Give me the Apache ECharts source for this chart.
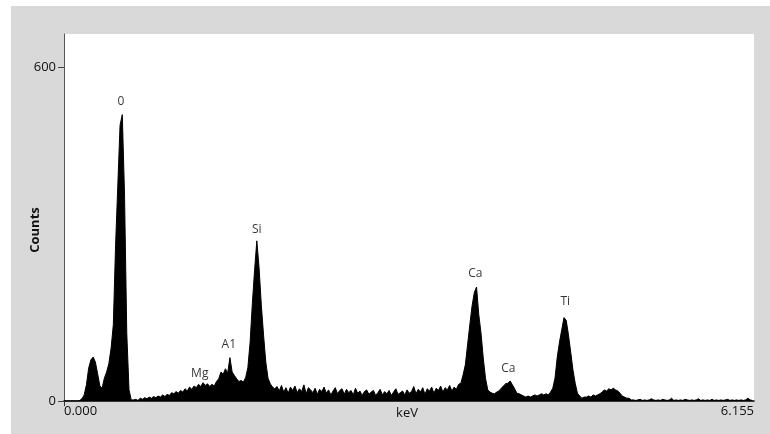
<!DOCTYPE html>
<html><head><meta charset="utf-8">
<script src="https://cdn.jsdelivr.net/npm/echarts@6/dist/echarts.min.js"></script>
<style>html,body{margin:0;padding:0;background:#fff}#c{width:770px;height:434px}</style>
</head><body><div id="c"></div>
<script>
// EDS spectrum, channel width in keV
const channelWidth = 0.02;
const axisMaxKeV = 6.155;
const counts = [
  0,0,0,0,0,0,0,1,
  4,11,29,59,74,79,70,49,27,23,41,52,67,95,137,280,388,496,515,370,122,20,2,
  2,3,1,5,3,6,4,7,5,8,6,9,7,11,8,12,10,15,13,17,14,19,16,22,18,25,21,27,24,30,
  26,33,28,31,26,30,27,35,40,52,48,58,50,78,52,46,40,35,37,34,42,60,105,175,235,288,
  240,173,119,70,41,31,25,22,
  26,18,28,16,24,14,25,19,27,15,22,17,29,13,24,20,15,23,12,21,17,25,14,20,11,18,24,13,19,22,
  12,21,15,19,11,23,14,18,10,17,20,12,16,19,10,15,21,11,17,13,19,10,16,22,12,15,18,11,20,14,
  17,26,13,21,16,24,12,22,18,25,14,23,19,27,16,24,20,28,18,25,21,30,
  32,47,65,101,137,171,195,205,155,122,77,41,20,16,14,13,16,18,23,27,31,32,36,29,
  22,14,13,11,9,7,9,7,9,11,9,11,13,11,13,11,16,23,41,79,106,128,150,145,119,88,56,
  32,14,9,5,7,7,9,7,11,9,11,13,16,20,18,22,20,23,20,18,14,9,7,5,5,2,
  2,1,2,3,1,2,1,2,4,2,1,2,1,3,2,1,2,5,1,2,1,2,1,3,2,1,2,1,2,4,
  1,2,1,2,1,3,1,2,1,2,1,2,3,1,2,1,2,1,2,1,2,5,2,1
];
const yTickValues = [0, 600];
const xTickLabelValues = [0, 6.155];
const peakNames = ['0', 'Si', 'Mg', 'A1', 'Ca', 'Ca', 'Ti'];
const peakLabelKeV = [0.508, 1.719, 1.211, 1.470, 3.670, 3.964, 4.471];
const peakLabelCounts = [539, 309, 50, 101, 230, 58, 178];

const spectrum = counts.map((c, i) => [i * channelWidth, c]);
const labels = peakNames.map((n, i) => ({ name: n, value: [peakLabelKeV[i], peakLabelCounts[i]] }));

const FONT = 'Open Sans';
const chart = echarts.init(document.getElementById('c'), null, { renderer: 'canvas' });
chart.setOption({
  animation: false,
  backgroundColor: '#d9d9d9',
  textStyle: { fontFamily: FONT },
  graphic: [
    { type: 'rect', shape: { x: 0, y: 0, width: 11, height: 434 }, style: { fill: '#fff' }, silent: true },
    { type: 'rect', shape: { x: 0, y: 0, width: 770, height: 6 }, style: { fill: '#fff' }, silent: true },
    { type: 'text', x: 35, y: 230, rotation: Math.PI / 2,
      style: { text: 'Counts', fontFamily: FONT, fontSize: 13, fontWeight: 'bold', fill: '#111',
               align: 'center', verticalAlign: 'middle' } }
  ],
  grid: { left: 64, right: 16, top: 34, bottom: 33, show: true, backgroundColor: '#ffffff', borderWidth: 0,
          containLabel: false, outerBoundsMode: 'none' },
  xAxis: {
    type: 'value', min: 0, max: axisMaxKeV,
    name: 'keV', nameLocation: 'middle', nameGap: 6, nameMoveOverlap: false,
    nameTextStyle: { fontFamily: FONT, fontSize: 13, color: '#111', padding: [0, 4, 0, 0],
                     verticalAlign: 'top' },
    axisLine: { onZero: false, lineStyle: { color: '#000', width: 1.5 } },
    axisTick: { show: true, customValues: [0], length: 5, lineStyle: { color: '#333' } },
    axisLabel: { customValues: xTickLabelValues, formatter: v => v.toFixed(3), margin: 4,
                 fontFamily: FONT, fontSize: 13, color: '#111',
                 alignMinLabel: 'left', alignMaxLabel: 'right' },
    splitLine: { show: false }
  },
  yAxis: {
    type: 'value', min: 0, max: 660,
    axisLine: { show: true, lineStyle: { color: '#555', width: 1 } },
    axisTick: { show: true, customValues: yTickValues, length: 6, lineStyle: { color: '#444' } },
    axisLabel: { customValues: yTickValues, margin: 8, fontFamily: FONT, fontSize: 13, color: '#111' },
    splitLine: { show: false }
  },
  series: [
    {
      type: 'line', data: spectrum, symbol: 'none', smooth: false,
      lineStyle: { color: '#000', width: 1 },
      areaStyle: { color: '#000', opacity: 1 },
      z: 2
    },
    {
      type: 'scatter', data: labels, symbolSize: 0, z: 3,
      label: { show: true, position: 'inside', formatter: p => p.name,
               fontFamily: FONT, fontSize: 12, color: '#000' }
    }
  ]
});
</script></body></html>
